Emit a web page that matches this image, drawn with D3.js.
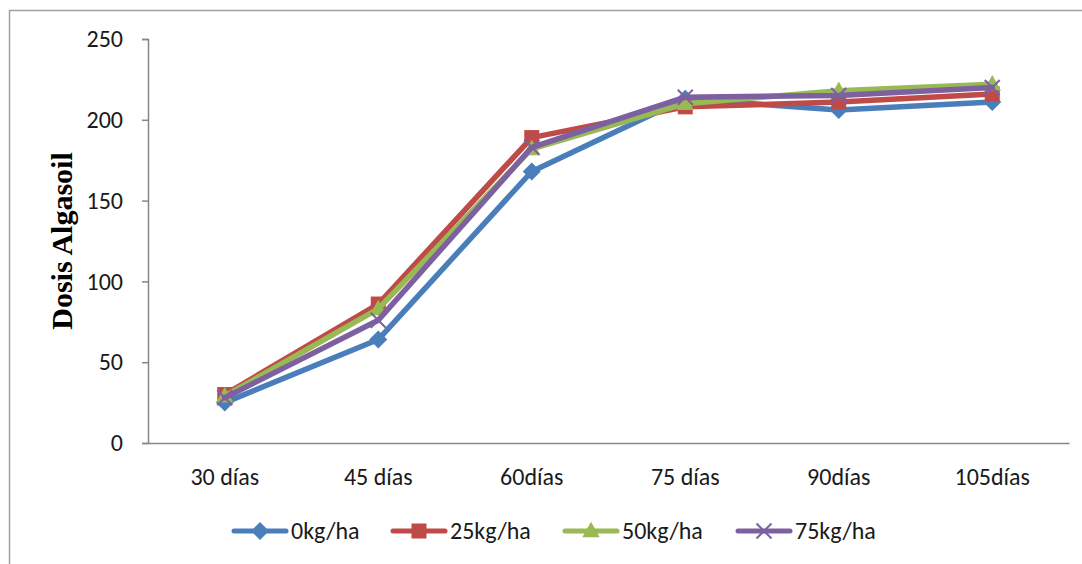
<!DOCTYPE html>
<html><head><meta charset="utf-8">
<script src="https://cdn.jsdelivr.net/npm/d3@7"></script>
<style>
html,body{margin:0;padding:0;background:#fff;}
svg{display:block;}
</style></head>
<body>
<svg id="chart" width="1082" height="564"></svg>
<script>
const categories = ["30 días","45 días","60días","75 días","90días","105días"];
const seriesNames = ["0kg/ha","25kg/ha","50kg/ha","75kg/ha"];
const s0 = [25, 64, 168, 213, 206, 211];
const s25 = [30, 86, 189, 208, 211, 216];
const s50 = [29, 83, 182, 210, 218, 222];
const s75 = [28, 76, 183, 214, 215, 220];
const yTicks = [0, 50, 100, 150, 200, 250];
const colors = ["#4a7ebb","#be4b48","#98b954","#7d60a0"];
const shapes = ["diamond","square","triangle","x"];
const yTitle = "Dosis Algasoil";

const series = [s0, s25, s50, s75];
const svg = d3.select("#chart");
const font = "Carlito, Lato, 'Liberation Sans', sans-serif";
const fs = 24;

// outer border
svg.append("rect").attr("x",9.5).attr("y",10.5).attr("width",1100).attr("height",600)
  .attr("fill","none").attr("stroke","#a0a0a0").attr("stroke-width",1.5);

const x0 = 148, x1 = 1069, yTop = 39, yBot = 443;
const x = d3.scaleBand().domain(categories).range([x0, x1]).padding(0);
const y = d3.scaleLinear().domain([0, 250]).range([yBot, yTop]);

// y axis
const yAxis = d3.axisLeft(y).tickValues(yTicks).tickSize(6).tickPadding(19);
const gy = svg.append("g").attr("transform",`translate(${x0},0)`).call(yAxis);
gy.select(".domain").attr("stroke","#868686").attr("stroke-width",1.5);
gy.selectAll(".tick line").attr("stroke","#868686").attr("stroke-width",1.5);
gy.selectAll(".tick text").attr("font-family",font).attr("font-size",fs).attr("fill","#1a1a1a");

// x axis
const xAxis = d3.axisBottom(x).tickSize(0).tickPadding(25);
const gx = svg.append("g").attr("transform",`translate(0,${yBot})`).call(xAxis);
gx.select(".domain").attr("stroke","#868686").attr("stroke-width",1.5);
gx.selectAll(".tick text").attr("font-family",font).attr("font-size",fs).attr("fill","#1a1a1a");

// y title
svg.append("text").attr("transform","translate(72,241) rotate(-90)")
  .attr("text-anchor","middle").attr("font-family","'Liberation Serif', 'Times New Roman', serif")
  .attr("font-weight","bold").attr("font-size",30).attr("fill","#000").text(yTitle);

function marker(g, shape, color, cx, cy, s) {
  if (shape === "diamond") {
    g.append("path").attr("d",`M${cx},${cy-s*0.6}L${cx+s*0.6},${cy}L${cx},${cy+s*0.6}L${cx-s*0.6},${cy}Z`).attr("fill",color);
  } else if (shape === "square") {
    g.append("rect").attr("x",cx-s/2).attr("y",cy-s/2).attr("width",s).attr("height",s).attr("fill",color);
  } else if (shape === "triangle") {
    g.append("path").attr("d",`M${cx},${cy-s*0.62}L${cx+s*0.58},${cy+s*0.42}L${cx-s*0.58},${cy+s*0.42}Z`).attr("fill",color);
  } else {
    const h = s*0.5;
    g.append("path").attr("d",`M${cx-h},${cy-h}L${cx+h},${cy+h}M${cx-h},${cy+h}L${cx+h},${cy-h}`)
      .attr("stroke",color).attr("stroke-width",2).attr("fill","none");
  }
}

const line = d3.line().x((d,i)=>x(categories[i]) + x.bandwidth()/2).y(d=>y(d));
series.forEach((vals, k) => {
  const g = svg.append("g");
  g.append("path").datum(vals).attr("d",line).attr("fill","none")
    .attr("stroke",colors[k]).attr("stroke-width",5.5).attr("stroke-linejoin","round").attr("stroke-linecap","round");
  vals.forEach((v,i)=>marker(g, shapes[k], colors[k], x(categories[i]) + x.bandwidth()/2, y(v), 15));
});

// legend
const legX = [234, 393, 565, 738];
const legY = 531;
seriesNames.forEach((name,k)=>{
  const g = svg.append("g");
  g.append("line").attr("x1",legX[k]).attr("x2",legX[k]+52).attr("y1",legY).attr("y2",legY)
    .attr("stroke",colors[k]).attr("stroke-width",5).attr("stroke-linecap","round");
  marker(g, shapes[k], colors[k], legX[k]+26, legY, 15);
  g.append("text").attr("x",legX[k]+57).attr("y",legY).attr("dy","0.35em")
    .attr("font-family",font).attr("font-size",fs).attr("fill","#1a1a1a").text(name);
});
</script>
</body></html>
